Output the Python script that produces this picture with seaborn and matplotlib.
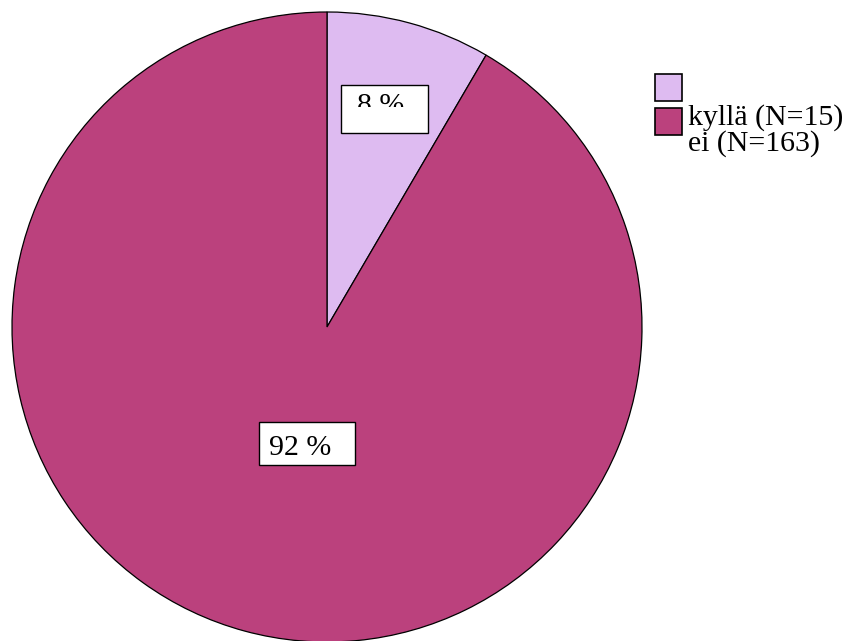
import matplotlib
matplotlib.use("Agg")
import matplotlib.pyplot as plt
import seaborn as sns
from matplotlib.patches import Rectangle
from matplotlib.transforms import Bbox, TransformedBbox

categories = ["kyllä", "ei"]
counts = [15, 163]
colors = ["#DEBBF1", "#BB417D"]

sns.set_theme(style="white")
plt.rcParams["font.family"] = ["Liberation Serif", "DejaVu Serif"]

W, H = 857, 641
fig = plt.figure(figsize=(W / 100, H / 100), dpi=100)
ax = fig.add_axes([0, 0, 1, 1])

def py(y):
    return H - y

wedges, _ = ax.pie(counts, colors=colors, startangle=90, counterclock=False,
                   center=(327, py(327)), radius=315, frame=True,
                   wedgeprops=dict(edgecolor="black", linewidth=0.9))
ax.set_xlim(0, W)
ax.set_ylim(0, H)
ax.axis("off")

total = sum(counts)
pcts = [f"{round(c / total * 100)} %" for c in counts]
fs = 21.5

# 8 % label (box with clipped text)
box1 = Rectangle((341, py(133)), 87, 48, facecolor="white", edgecolor="black", linewidth=1.0, zorder=3)
ax.add_patch(box1)
t1 = ax.text(381, py(113), pcts[0], ha="center", va="baseline", fontsize=fs, color="black", zorder=4)
t1.set_clip_box(TransformedBbox(Bbox([[341, py(107)], [428, py(85)]]), ax.transData))
t1.set_clip_on(True)

# 92 % label
box2 = Rectangle((259, py(465)), 96, 43, facecolor="white", edgecolor="black", linewidth=1.0, zorder=3)
ax.add_patch(box2)
ax.text(300, py(455), pcts[1], ha="center", va="baseline", fontsize=fs, color="black", zorder=4)

# legend
legend_labels = [f"{c} (N={n})" for c, n in zip(categories, counts)]
sq_tops = [74, 108]
for top, col in zip(sq_tops, colors):
    ax.add_patch(Rectangle((655, py(top + 27)), 27, 27, facecolor=col, edgecolor="black", linewidth=1.2))
for base, lab in zip([125, 151], legend_labels):
    ax.text(688, py(base), lab, ha="left", va="baseline", fontsize=fs, color="black")

fig.savefig("out.png", dpi=100, facecolor="white")
